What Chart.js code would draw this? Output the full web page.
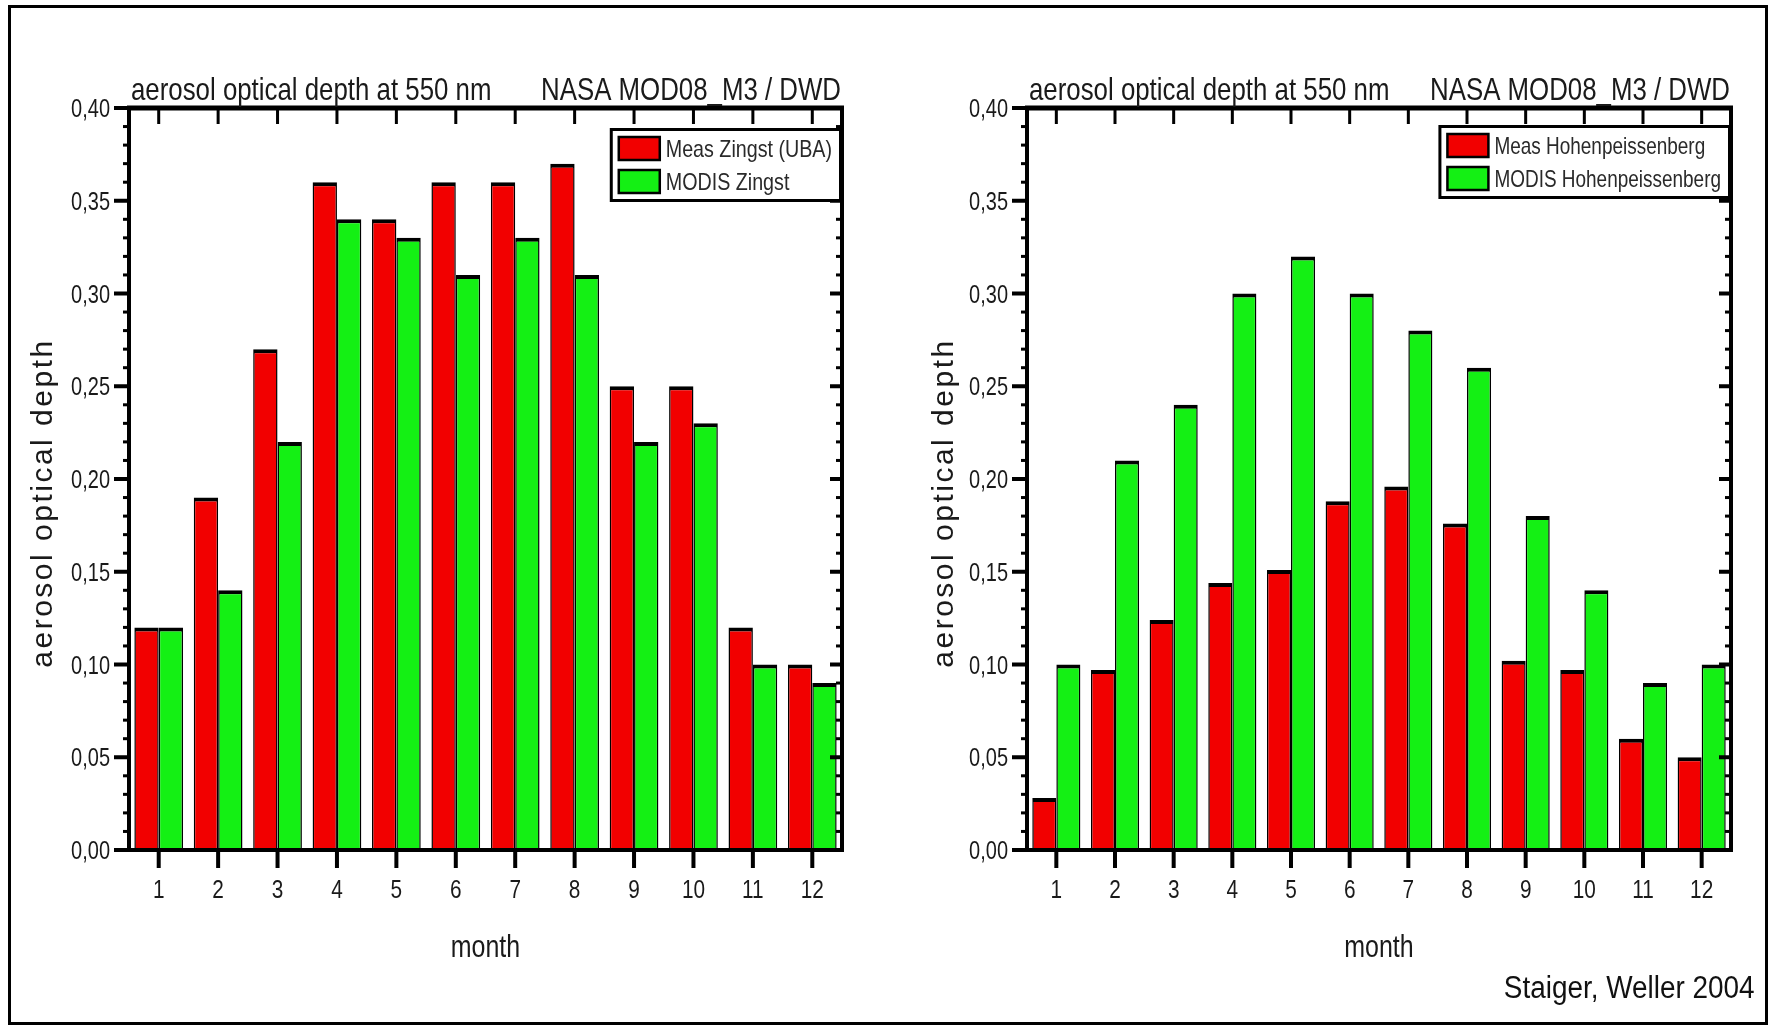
<!DOCTYPE html>
<html>
<head>
<meta charset="utf-8">
<script src="https://cdn.jsdelivr.net/npm/chart.js@4.4.1/dist/chart.umd.min.js"></script>
<style>
  html, body { margin: 0; background: #fff; }
  #fig { position: relative; width: 1773px; height: 1027px; overflow: hidden; }
  #fig canvas { position: absolute; top: 0; }
  #border { position: absolute; left: 8px; top: 5px; width: 1754px; height: 1014px; border: 3px solid #000; }
  #credit { position: absolute; right: 18px; top: 970px; line-height: 36px; white-space: nowrap; color: #111;
    font: 31px "Liberation Sans", Arial, sans-serif; transform: scaleX(0.9); transform-origin: right center; }
</style>
</head>
<body>
<div id="fig">
  <div id="border"></div>
  <canvas id="c-left" width="886" height="1027" style="left:0"></canvas>
  <canvas id="c-right" width="887" height="1027" style="left:886px"></canvas>
  <div id="credit">Staiger, Weller 2004</div>
</div>
<script>
// Monthly mean aerosol optical depth at 550 nm, ground measurement vs. MODIS.
const MONTHS = ['1', '2', '3', '4', '5', '6', '7', '8', '9', '10', '11', '12'];
const ZINGST_MEAS = [0.12, 0.19, 0.27, 0.36, 0.34, 0.36, 0.36, 0.37, 0.25, 0.25, 0.12, 0.10];
const ZINGST_MODIS = [0.12, 0.14, 0.22, 0.34, 0.33, 0.31, 0.33, 0.31, 0.22, 0.23, 0.10, 0.09];
const HOHEN_MEAS = [0.028, 0.097, 0.124, 0.144, 0.151, 0.188, 0.196, 0.176, 0.102, 0.097, 0.060, 0.050];
const HOHEN_MODIS = [0.10, 0.21, 0.24, 0.30, 0.32, 0.30, 0.28, 0.26, 0.18, 0.14, 0.09, 0.10];
const LABELS_LEFT = ['Meas Zingst (UBA)', 'MODIS Zingst'];
const LABELS_RIGHT = ['Meas Hohenpeissenberg', 'MODIS Hohenpeissenberg'];
const HEAD_LEFT = 'aerosol optical depth at 550 nm';
const HEAD_RIGHT = 'NASA MOD08_M3 / DWD';
const X_TITLE = 'month';
const Y_TITLE = 'aerosol optical depth';
const Y_MIN = 0, Y_MAX = 0.40, Y_STEP = 0.05, Y_MINOR = 0.01;

const SANS = '"Liberation Sans", Arial, sans-serif';
const RED = '#f20000', GREEN = '#14f014', INK = '#1a1a1a';

// No narrow Helvetica installed: squeeze Liberation Sans horizontally instead.
function narrowText(ctx, text, x, y, size, align, squeeze) {
  ctx.save();
  ctx.translate(x, y);
  ctx.scale(squeeze || 0.8, 1);
  ctx.font = size + 'px ' + SANS;
  ctx.textAlign = align;
  ctx.textBaseline = 'alphabetic';
  ctx.fillText(text, 0, 0);
  ctx.restore();
}

// Frame, Origin-style tick marks and labels, header line, y title and boxed legend.
function panelPlugin(geo) {
  return {
    id: 'panel',
    afterDatasetsDraw(chart) {
      const { ctx, chartArea: a, scales: { x, y } } = chart;
      const w = a.right - a.left, h = a.bottom - a.top;
      ctx.save();
      ctx.fillStyle = '#000';
      ctx.fillRect(a.left - 2, a.top - 2.5, w + 4, 5);
      ctx.fillRect(a.left - 2, a.bottom - 2, w + 4, 4);
      ctx.fillRect(a.left - 2, a.top, 4, h);
      ctx.fillRect(a.right - 2, a.top, 4, h);

      // y: majors every 0.05, minors every 0.01 (outside on the left, inside on the right)
      const n = Math.round((Y_MAX - Y_MIN) / Y_MINOR);
      for (let i = 0; i <= n; i++) {
        const py = y.getPixelForValue(Y_MIN + i * Y_MINOR);
        if (i % Math.round(Y_STEP / Y_MINOR) === 0) {
          ctx.fillRect(a.left - 15, py - 2, 15, 4);
          ctx.fillRect(a.right - 12, py - 2, 12, 4);
        } else {
          ctx.fillRect(a.left - 6, py - 1.5, 6, 3);
          ctx.fillRect(a.right - 6, py - 1.5, 6, 3);
        }
      }
      // x: one tick per month, inward at the top, outward at the bottom
      MONTHS.forEach(function (_, i) {
        const px = x.getPixelForValue(i);
        ctx.fillRect(px - 1.5, a.top, 3, 16);
        ctx.fillRect(px - 2, a.bottom, 4, 18);
      });

      // tick labels and axis titles
      ctx.fillStyle = INK;
      y.ticks.forEach(function (t) {
        narrowText(ctx, t.value.toFixed(2).replace('.', ','), a.left - 19, y.getPixelForValue(t.value) + 9, 25, 'right');
      });
      chart.data.labels.forEach(function (lab, i) {
        narrowText(ctx, lab, x.getPixelForValue(i), a.bottom + 48, 26, 'center');
      });
      narrowText(ctx, X_TITLE, (a.left + a.right) / 2, a.bottom + 107, 32, 'center', 0.78);
      narrowText(ctx, HEAD_LEFT, a.left + 2, a.top - 8, 31.5, 'left', 0.82);
      narrowText(ctx, HEAD_RIGHT, a.right - 1, a.top - 8, 31.5, 'right', 0.82);

      ctx.save();
      ctx.translate(geo.yTitleX, (a.top + a.bottom) / 2 + 24);
      ctx.rotate(-Math.PI / 2);
      ctx.font = '30px ' + SANS;
      ctx.letterSpacing = '2.5px';
      ctx.textAlign = 'center';
      ctx.textBaseline = 'middle';
      ctx.fillText(Y_TITLE, 0, 0);
      ctx.restore();

      // legend box hugging the right axis
      const ds = chart.data.datasets;
      ctx.font = '24px ' + SANS;
      const tw = geo.legendSqueeze * Math.max.apply(null, ds.map(function (d) { return ctx.measureText(d.label).width; }));
      const bw = 8 + 41 + 7 + tw + 10, bh = 74;
      const bx = a.right - bw, by = a.top + geo.legendTop;
      ctx.fillStyle = '#fff';
      ctx.fillRect(bx, by, bw, bh);
      ctx.lineWidth = 3;
      ctx.strokeStyle = '#000';
      ctx.strokeRect(bx + 1.5, by + 1.5, bw - 3, bh - 3);
      ds.forEach(function (d, i) {
        const sy = by + 9 + i * 33;
        ctx.fillStyle = d.backgroundColor;
        ctx.fillRect(bx + 9, sy, 41, 23);
        ctx.lineWidth = 2.5;
        ctx.strokeRect(bx + 9, sy, 41, 23);
        ctx.fillStyle = '#2a2a2a';
        narrowText(ctx, d.label, bx + 56, sy + 20, 24, 'left', geo.legendSqueeze);
      });
      ctx.restore();
    },
  };
}

function makeChart(geo, labels, meas, modis) {
  const bar = { borderColor: '#000', borderWidth: { top: 4, left: 1.5, right: 1.5, bottom: 0 }, borderSkipped: 'start',
    categoryPercentage: 0.82, barPercentage: 1.0 };
  return new Chart(document.getElementById(geo.id).getContext('2d'), {
    type: 'bar',
    data: {
      labels: MONTHS,
      datasets: [
        Object.assign({ label: labels[0], data: meas, backgroundColor: RED }, bar),
        Object.assign({ label: labels[1], data: modis, backgroundColor: GREEN }, bar),
      ],
    },
    options: {
      responsive: false, animation: false,
      layout: { padding: { top: 108, left: 0, right: geo.padRight, bottom: 0 } },
      plugins: { legend: { display: false }, tooltip: { enabled: false } },
      scales: {
        x: {
          grid: { display: false, drawTicks: false }, border: { display: false },
          ticks: { display: false },
          afterFit: function (s) { s.height = 177; },
        },
        y: {
          min: Y_MIN, max: Y_MAX,
          grid: { display: false, drawTicks: false }, border: { display: false },
          ticks: { display: false, stepSize: Y_STEP },
          afterFit: function (s) { s.width = geo.yAxisW; },
        },
      },
    },
    plugins: [panelPlugin(geo)],
  });
}

makeChart({ id: 'c-left', yAxisW: 129, padRight: 44, yTitleX: 44, legendTop: 20, legendSqueeze: 0.82 }, LABELS_LEFT, ZINGST_MEAS, ZINGST_MODIS);
makeChart({ id: 'c-right', yAxisW: 141, padRight: 42, yTitleX: 59, legendTop: 17, legendSqueeze: 0.79 }, LABELS_RIGHT, HOHEN_MEAS, HOHEN_MODIS);
</script>
</body>
</html>
